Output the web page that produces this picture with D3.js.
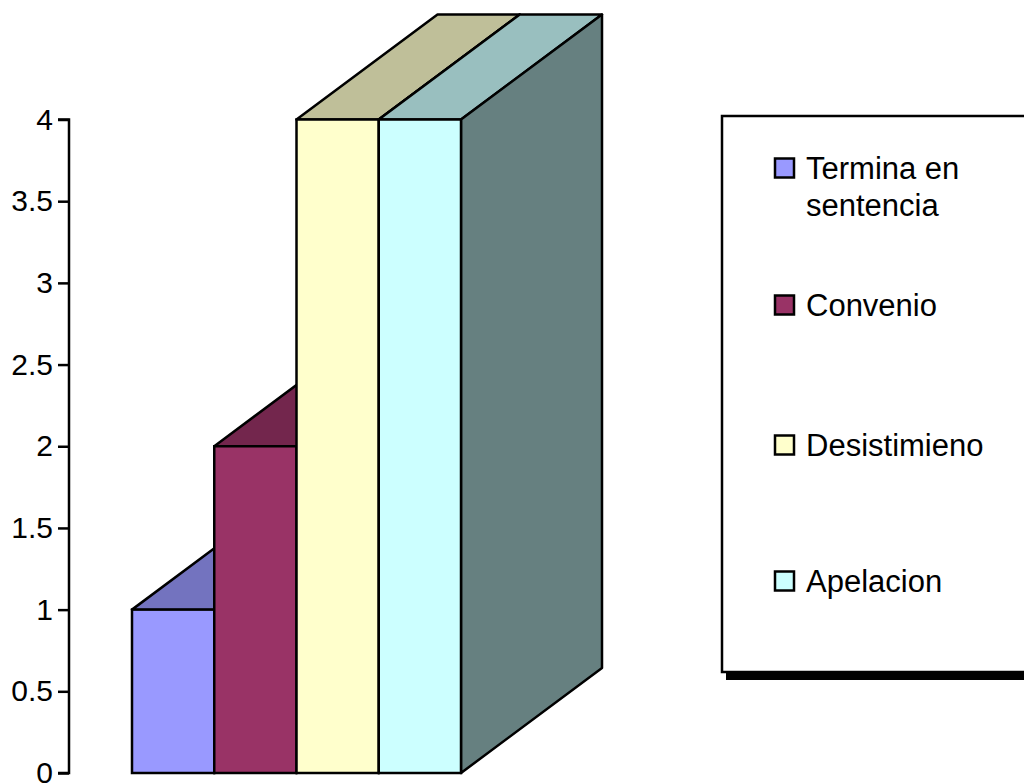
<!DOCTYPE html>
<html><head><meta charset="utf-8">
<script src="https://cdn.jsdelivr.net/npm/d3@7"></script>
<style>
html,body{margin:0;padding:0;background:#fff;}
svg{display:block;font-family:"Liberation Sans",Arial,sans-serif;}
</style></head>
<body>
<svg id="chart" width="1024" height="784"></svg>
<script>
const categories = ["Termina en sentencia", "Convenio", "Desistimieno", "Apelacion"];
const values = [1, 2, 4, 4];
const frontColors = ["#9999FF", "#993366", "#FFFFCC", "#CCFFFF"];
const topColors = ["#7373BF", "#73264D", "#BFBF99", "#99BFBF"];
const sideColors = ["#4D4D80", "#4D1A33", "#808066", "#668080"];
const tickValues = [0, 0.5, 1, 1.5, 2, 2.5, 3, 3.5, 4];
const tickLabels = ["0", "0.5", "1", "1.5", "2", "2.5", "3", "3.5", "4"];
const legendLines = [["Termina en", "sentencia"], ["Convenio"], ["Desistimieno"], ["Apelacion"]];

const svg = d3.select("#chart");
const y = d3.scaleLinear().domain([0, 4]).range([773, 119.5]);
const x = d3.scaleBand().domain(categories).range([132, 461]).padding(0);
const DX = 141, DY = -105;
const SW = 2.5;

const g = svg.append("g");
categories.forEach((c, i) => {
  const x0 = x(c), x1 = x0 + x.bandwidth();
  const yt = y(values[i]), yb = y(0);
  g.append("path")
    .attr("d", `M${x0},${yt}L${x1},${yt}L${x1+DX},${yt+DY}L${x0+DX},${yt+DY}Z`)
    .attr("fill", topColors[i]).attr("stroke", "#000").attr("stroke-width", SW).attr("stroke-linejoin", "round");
  g.append("path")
    .attr("d", `M${x1},${yt}L${x1+DX},${yt+DY}L${x1+DX},${yb+DY}L${x1},${yb}Z`)
    .attr("fill", sideColors[i]).attr("stroke", "#000").attr("stroke-width", SW).attr("stroke-linejoin", "round");
  g.append("rect")
    .attr("x", x0).attr("y", yt).attr("width", x.bandwidth()).attr("height", yb - yt)
    .attr("fill", frontColors[i]).attr("stroke", "#000").attr("stroke-width", SW);
});

const axis = d3.axisLeft(y).tickValues(tickValues)
  .tickFormat((d, i) => tickLabels[i]).tickSize(11).tickPadding(5);
const ag = svg.append("g").attr("transform", "translate(69,0)").call(axis);
ag.attr("font-size", 30).attr("font-family", "'Liberation Sans',Arial,sans-serif");
ag.select(".domain").attr("stroke", "#000").attr("stroke-width", 2.5).attr("d", `M-11,${y(4)}H0V${y(0)}H-11`);
ag.selectAll(".tick line").attr("stroke", "#000").attr("stroke-width", 2.5);
ag.selectAll(".tick text").attr("font-size", 30).attr("fill", "#000");

const lg = svg.append("g");
lg.append("rect").attr("x", 726).attr("y", 124).attr("width", 400).attr("height", 556).attr("fill", "#000");
lg.append("rect").attr("x", 722).attr("y", 116).attr("width", 400).attr("height", 556)
  .attr("fill", "#fff").attr("stroke", "#000").attr("stroke-width", 2.5);
const itemCenters = [168, 305, 445, 581];
categories.forEach((c, i) => {
  const cy = itemCenters[i];
  lg.append("rect").attr("x", 775).attr("y", cy - 9.5).attr("width", 19).attr("height", 19)
    .attr("fill", frontColors[i]).attr("stroke", "#000").attr("stroke-width", 2.5);
  const t = lg.append("text").attr("x", 806).attr("y", cy + 11)
    .attr("font-size", 31).attr("fill", "#000");
  legendLines[i].forEach((ln, j) => {
    t.append("tspan").attr("x", 806).attr("dy", j === 0 ? 0 : 37).text(ln);
  });
});
</script>
</body></html>
